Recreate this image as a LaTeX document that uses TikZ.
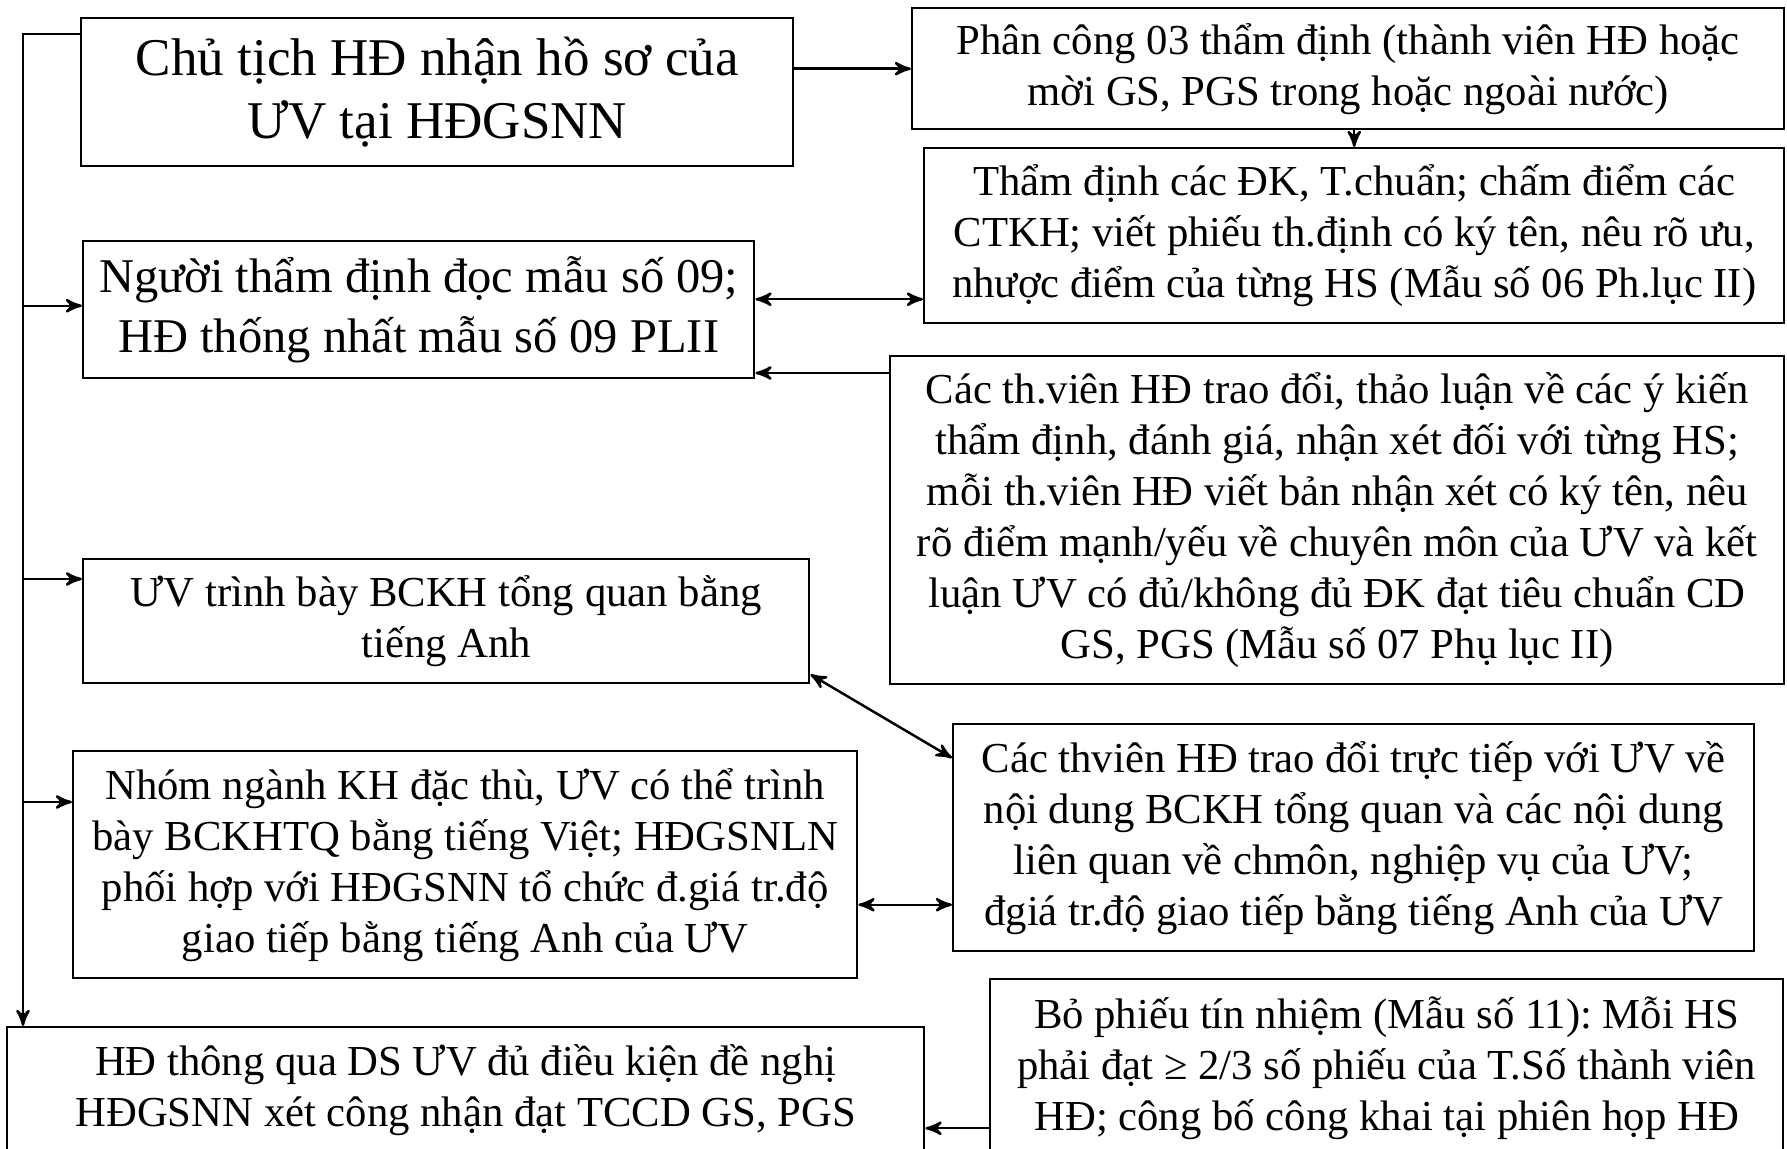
\documentclass[tikz,border=0pt]{standalone}
\usepackage{fontspec}
\setmainfont{Liberation Serif}
\frenchspacing
\usetikzlibrary{arrows}
\usetikzlibrary{positioning}

\begin{document}
\begin{tikzpicture}[
    stage/.style={draw,rectangle,line width=0.7pt,anchor=north west,align=center,inner sep=0pt,
      font=\fontsize{12.15}{14.5}\selectfont},
    link/.style={draw,line width=0.7pt,->,>=stealth'},
    twoway/.style={draw,line width=0.7pt,<->,>=stealth'}]

  \useasboundingbox (0,0) rectangle (17.87,-11.49);

  % left column
  \node [stage,minimum width=7.12cm,minimum height=1.48cm,font=\fontsize{15.1}{17.9}\selectfont] (chair) at (0.80,-0.17)
    {Chủ tịch HĐ nhận hồ sơ của\\ƯV tại HĐGSNN};
  \node [stage,minimum width=6.71cm,minimum height=1.37cm,font=\fontsize{13.8}{16.8}\selectfont] (read) at (0.82,-2.40)
    {Người thẩm định đọc mẫu số 09;\\HĐ thống nhất mẫu số 09 PLII};
  \node [stage,minimum width=7.26cm,minimum height=1.24cm] (present) at (0.82,-5.58)
    {ƯV trình bày BCKH tổng quan bằng\\tiếng Anh};
  \node [stage,minimum width=7.84cm,minimum height=2.27cm] (group) at (0.72,-7.50)
    {Nhóm ngành KH đặc thù, ƯV có thể trình\\bày BCKHTQ bằng tiếng Việt; HĐGSNLN\\phối hợp với HĐGSNN tổ chức đ.giá tr.độ\\giao tiếp bằng tiếng Anh của ƯV};
  \node [stage,minimum width=9.17cm,minimum height=1.26cm] (pass) at (0.06,-10.26)
    {HĐ thông qua DS ƯV đủ điều kiện đề nghị\\HĐGSNN xét công nhận đạt TCCD GS, PGS};

  % right column
  \node [stage,minimum width=8.72cm,minimum height=1.21cm] (assign) at (9.11,-0.07)
    {Phân công 03 thẩm định (thành viên HĐ hoặc\\mời GS, PGS trong hoặc ngoài nước)};
  \node [stage,minimum width=8.60cm,minimum height=1.75cm] (appraise) at (9.23,-1.47)
    {Thẩm định các ĐK, T.chuẩn; chấm điểm các\\CTKH; viết phiếu th.định có ký tên, nêu rõ ưu,\\nhược điểm của từng HS (Mẫu số 06 Ph.lục II)};
  \node [stage,minimum width=8.94cm,minimum height=3.28cm] (discuss) at (8.89,-3.55)
    {Các th.viên HĐ trao đổi, thảo luận về các ý kiến\\thẩm định, đánh giá, nhận xét đối với từng HS;\\mỗi th.viên HĐ viết bản nhận xét có ký tên, nêu\\rõ điểm mạnh/yếu về chuyên môn của ƯV và kết\\luận ƯV có đủ/không đủ ĐK đạt tiêu chuẩn CD\\GS, PGS (Mẫu số 07 Phụ lục II)};
  \node [stage,minimum width=8.01cm,minimum height=2.27cm] (exchange) at (9.52,-7.23)
    {Các thviên HĐ trao đổi trực tiếp với ƯV về\\nội dung BCKH tổng quan và các nội dung\\liên quan về chmôn, nghiệp vụ của ƯV;\\đgiá tr.độ giao tiếp bằng tiếng Anh của ƯV};
  \node [stage,minimum width=7.93cm,minimum height=1.78cm] (vote) at (9.89,-9.78)
    {Bỏ phiếu tín nhiệm (Mẫu số 11): Mỗi HS\\phải đạt ≥ 2/3 số phiếu của T.Số thành viên\\HĐ; công bố công khai tại phiên họp HĐ};

  \coordinate (spine) at (0.23,-0.34);

  % spine on the left
  \draw [link]
    ([yshift=-0.17cm]chair.north west) -- (spine) -- (spine |- pass.north);
  \path
    ([yshift=0.04cm]read.west -| spine)               edge [link] ([yshift=0.04cm]read.west)
    ([yshift=-0.21cm]present.north west -| spine)     edge [link] ([yshift=-0.21cm]present.north west)
    ([yshift=-0.52cm]group.north west -| spine)       edge [link] ([yshift=-0.52cm]group.north west);

  % connectors between the columns
  \path
    (chair.east |- assign.west)                       edge [link] (assign.west)
    (appraise.north |- assign.south)                  edge [link] (appraise.north)
    ([yshift=-0.18cm]discuss.north west)              edge [link] ([yshift=-0.18cm]discuss.north west -| read.east)
    ([yshift=-0.60cm]vote.west)                       edge [link] ([yshift=-0.60cm]vote.west -| pass.east);
  \path
    ([yshift=0.105cm]read.east)                       edge [twoway] ([yshift=0.105cm]read.east -| appraise.west)
    ([yshift=0.10cm]present.south east)               edge [twoway] ([yshift=-0.35cm]exchange.north west)
    ([yshift=-0.40cm]group.east)                      edge [twoway] ([yshift=-0.40cm]group.east -| exchange.west);

\end{tikzpicture}
\end{document}
